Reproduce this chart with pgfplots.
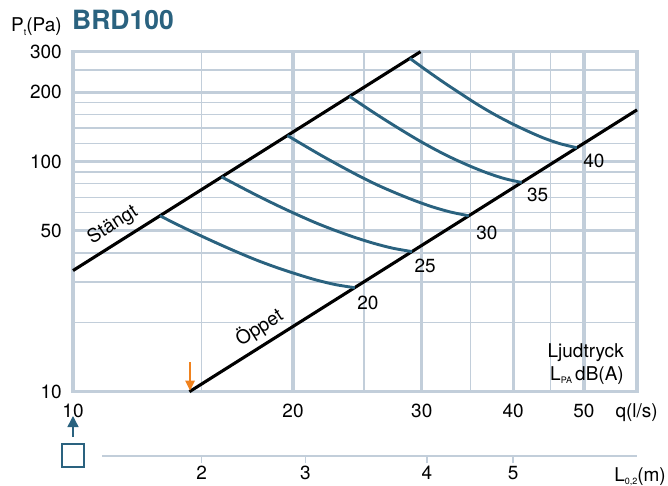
\documentclass[border=0pt]{standalone}
\usepackage{pgfplots}
\pgfplotsset{compat=1.18}
\usepackage{fontspec}
\setmainfont{TeX Gyre Heros}
\usetikzlibrary{arrows.meta}
\definecolor{gridc}{HTML}{C2CEDA}
\definecolor{curveb}{HTML}{2A627F}
\definecolor{orng}{HTML}{F0821E}
\newcommand{\tf}{\fontsize{19}{22}\selectfont}
\begin{document}
\begin{tikzpicture}
\useasboundingbox (0,0) rectangle (668pt,485pt);
\begin{axis}[
  at={(73pt,93.3pt)}, anchor=south west,
  scale only axis, width=564pt, height=340pt,
  xmode=log, ymode=log,
  xmin=10, xmax=59.1, ymin=10, ymax=300,
  xtick={10,20,30,40,50}, xticklabels={10,20,30,40,50},
  minor xtick={15,25,35,45},
  ytick={10,50,100,200,300}, yticklabels={10,50,100,200,300},
  minor ytick={20,30,40,60,70,80,90,120,140,160,180,250},
  grid=both,
  major grid style={gridc, line width=3.2pt},
  minor grid style={gridc, line width=1.3pt},
  axis line style={gridc, line width=3.5pt},
  major tick length=0pt, minor tick length=0pt,
  ticklabel style={font=\tf, inner sep=0pt},
  xticklabel style={anchor=north, yshift=-12pt},
  yticklabel style={anchor=east, xshift=-11pt},
  clip=false,
]
% Stängt and Öppet lines
\addplot[black, line width=3.1pt] coordinates {(10,33.6) (29.88,300)};
\addplot[black, line width=3.1pt] coordinates {(14.43,10) (59.1,167.7)};
% sound pressure curves (LpA 20, 25, 30, 35, 40 dB(A))
\addplot[curveb, line width=2.9pt, smooth] coordinates {(13.15,58.1) (13.98,52.7) (14.87,48.0) (15.81,43.9) (16.81,40.3) (17.87,37.2) (19.01,34.6) (20.21,32.45) (21.49,30.6) (22.85,29.2) (24.3,28.3)};
\addplot[curveb, line width=2.9pt, smooth] coordinates {(15.97,85.7) (16.96,77.5) (18.00,70.3) (19.12,64.0) (20.30,58.6) (21.56,53.9) (22.89,50.05) (24.30,46.8) (25.80,44.1) (27.40,42.0) (29.1,40.6)};
\addplot[curveb, line width=2.9pt, smooth] coordinates {(19.65,129.7) (20.81,116.4) (22.03,104.8) (23.33,94.8) (24.70,86.1) (26.15,78.8) (27.69,72.8) (29.32,67.7) (31.04,63.5) (32.87,60.3) (34.8,58.1)};
\addplot[curveb, line width=2.9pt, smooth] coordinates {(23.9,191.9) (25.23,170.8) (26.63,152.8) (28.12,137.2) (29.69,123.7) (31.34,112.5) (33.08,103.2) (34.93,95.5) (36.87,89.2) (38.93,84.3) (41.1,81.1)};
\addplot[curveb, line width=2.9pt, smooth] coordinates {(28.9,280.6) (30.46,248.7) (32.10,221.4) (33.84,198.1) (35.66,177.9) (37.58,161.2) (39.62,147.5) (41.76,136.1) (44.01,126.6) (46.38,119.5) (48.9,114.8)};
% curve labels
\node[font=\tf, xshift=13pt, yshift=-15pt] at (axis cs:24.3,28.3) {20};
\node[font=\tf, xshift=13pt, yshift=-14pt] at (axis cs:29.1,40.6) {25};
\node[font=\tf, xshift=18pt, yshift=-17pt] at (axis cs:34.8,58.1) {30};
\node[font=\tf, xshift=16pt, yshift=-12pt] at (axis cs:41.1,81.1) {35};
\node[font=\tf, xshift=17pt, yshift=-13pt] at (axis cs:48.9,114.8) {40};
% line labels
\node[font=\tf, anchor=base, rotate=32.5, yshift=12pt, inner sep=0pt] at (axis cs:11.67,45.8) {Stängt};
\node[font=\tf, anchor=base, rotate=32.5, yshift=11pt, inner sep=0pt] at (axis cs:18.51,16.4) {Öppet};
% orange arrow
\draw[orng, line width=2.4pt, -{Triangle[width=9pt,length=10pt]}] (axis cs:14.46,13.4) -- (axis cs:14.46,10.1);
\end{axis}
% second scale L_{0,2}
\begin{axis}[
  at={(73pt,29pt)}, anchor=south west,
  scale only axis, width=564pt, height=10pt,
  xmode=log, xmin=10, xmax=59.1, ymin=0, ymax=1,
  axis x line=bottom, axis y line=none,
  x axis line style={draw=none},
  xtick={15,20.8,30.5,40}, xticklabels={2,3,4,5},
  xminorticks=false,
  tick align=outside, major tick length=7pt,
  xtick style={gridc, line width=1.3pt},
  xticklabel style={font=\tf, inner sep=0pt, anchor=north, yshift=-3pt},
  clip=false,
]
\draw[gridc, line width=1.5pt] (axis cs:10.96,0) -- (axis cs:59.1,0);
\end{axis}
% texts
\node[anchor=base west, inner sep=0pt, font=\tf] at (11pt,453pt) {P\raisebox{-0.35ex}{\fontsize{9}{9}\selectfont t}(Pa)};
\node[anchor=base west, inner sep=0pt, font=\fontsize{26.5}{29}\selectfont\bfseries, text=curveb] at (72pt,455pt) {BRD100};
\node[anchor=base east, inner sep=0pt, font=\tf] at (658pt,68pt) {q(l/s)};
\node[anchor=base east, inner sep=0pt, font=\tf] at (624pt,128pt) {Ljudtryck};
\node[anchor=base east, inner sep=0pt, font=\tf] at (624pt,105pt) {L\raisebox{-0.35ex}{\fontsize{9}{9}\selectfont PA}\,dB(A)};
\node[anchor=base east, inner sep=0pt, font=\tf] at (666pt,4pt) {L\raisebox{-0.35ex}{\fontsize{9}{9}\selectfont 0,2}(m)};
% blue arrow and square
\draw[curveb, line width=1.5pt, -{Triangle[width=11pt,length=11pt]}] (73pt,48pt) -- (73pt,69pt);
\draw[curveb, line width=1.5pt] (62pt,18pt) rectangle (84pt,41pt);
\end{tikzpicture}
\end{document}
